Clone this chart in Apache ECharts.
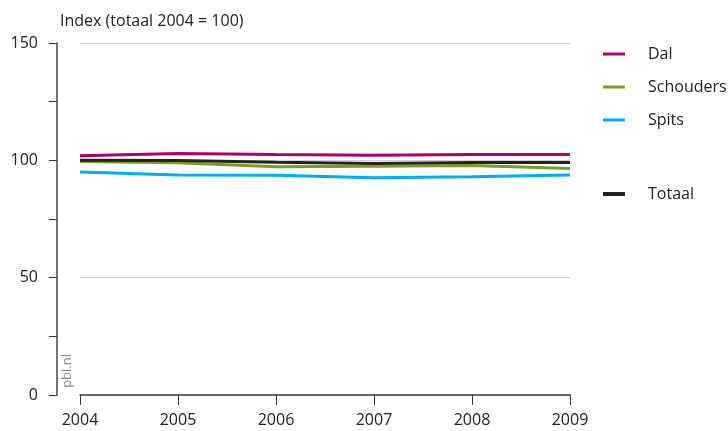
<!DOCTYPE html>
<html><head><meta charset="utf-8">
<script src="https://cdn.jsdelivr.net/npm/echarts@6/dist/echarts.min.js"></script>
<style>html,body{margin:0;padding:0;background:#fff}#c{width:728px;height:431px}</style>
</head><body><div id="c"></div>
<script>
const years = ['2004','2005','2006','2007','2008','2009'];
const dal = [102.0, 102.9, 102.5, 102.2, 102.5, 102.5];
const schouders = [99.5, 99.0, 97.3, 97.5, 97.8, 96.5];
const spits = [95.0, 93.7, 93.6, 92.6, 93.0, 93.7];
const totaal = [100.0, 99.9, 99.2, 98.7, 99.1, 99.1];
const yTicks = [0, 50, 100, 150];

const FONT = '"Open Sans", sans-serif';
const TXT = '#222';
const chart = echarts.init(document.getElementById('c'), null, {renderer:'canvas'});
function ln(name, data, color){
  return {name, type:'line', data, symbol:'none', smooth:false,
    lineStyle:{width:3, color}, itemStyle:{color}};
}
chart.setOption({
  animation:false,
  textStyle:{fontFamily:FONT},
  title:{text:'Index (totaal 2004 = 100)', left:55, top:8,
    textStyle:{fontFamily:FONT, fontSize:16, fontWeight:'normal', color:TXT}},
  grid:{left:80, right:158, top:43, bottom:36, containLabel:false},
  legend:[{
    data:['Dal','Schouders','Spits'], orient:'vertical', left:598, top:41,
    icon:'rect', itemWidth:22, itemHeight:3, itemGap:17,
    textStyle:{fontFamily:FONT, fontSize:16, color:TXT, padding:[0,0,0,18]}
  },{
    data:['Totaal'], orient:'vertical', left:598, top:181,
    icon:'rect', itemWidth:22, itemHeight:4,
    textStyle:{fontFamily:FONT, fontSize:16, color:TXT, padding:[0,0,0,18]}
  }],
  xAxis:{type:'category', data:years, boundaryGap:false,
    axisLine:{lineStyle:{color:'#333', width:1.5}},
    axisTick:{length:10, lineStyle:{color:'#333'}},
    axisLabel:{fontFamily:FONT, fontSize:16, color:TXT, margin:17}
  },
  yAxis:{type:'value', min:0, max:150, interval:50, offset:23,
    axisLine:{show:true, lineStyle:{color:'#444', width:1.5}},
    axisTick:{show:true, length:8, lineStyle:{color:'#333'}},
    minorTick:{show:true, splitNumber:2, length:8, lineStyle:{color:'#333'}},
    axisLabel:{fontFamily:FONT, fontSize:16, color:TXT, margin:19,
      formatter:v=> yTicks.includes(v) ? String(v) : ''},
    splitLine:{show:true, lineStyle:{color:['rgba(0,0,0,0)','#d0d0d0','#d0d0d0','#d0d0d0'], width:1}}
  },
  graphic:[{type:'text', left:61, top:354, rotation:Math.PI/2,
    style:{text:'pbl.nl', fill:'#888', font:'13px '+FONT}}],
  series:[
    ln('Schouders', schouders, '#7f9a1e'),
    ln('Spits', spits, '#00aeef'),
    ln('Dal', dal, '#b0006e'),
    ln('Totaal', totaal, '#222222')
  ]
});
</script></body></html>
